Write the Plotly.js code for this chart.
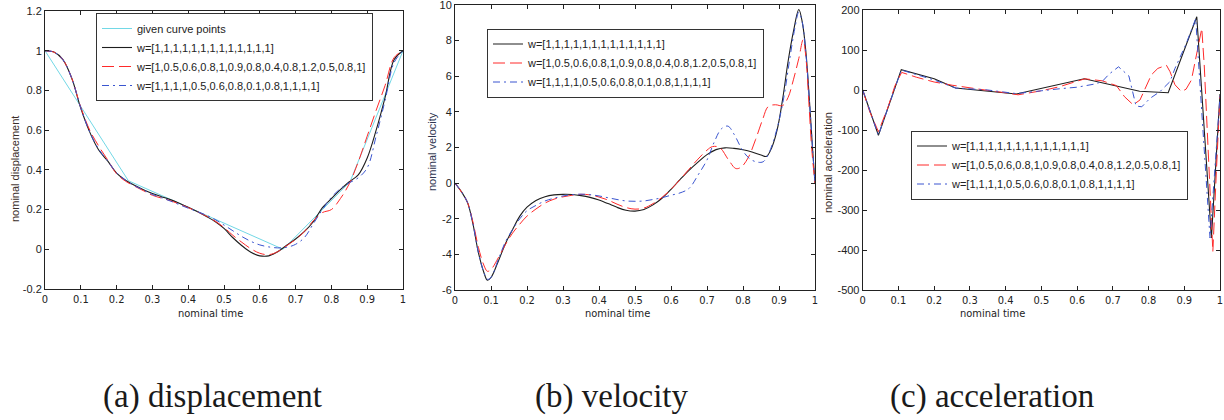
<!DOCTYPE html>
<html><head><meta charset="utf-8">
<script src="https://cdn.plot.ly/plotly-3.0.1.min.js"></script>
<style>html,body{margin:0;padding:0;background:#fff}#chart{width:1224px;height:420px}</style>
</head><body><div id="chart"></div>
<script>
// ---------- tick labels ----------
const xTickVals = [0,0.1,0.2,0.3,0.4,0.5,0.6,0.7,0.8,0.9,1];
const xTickText = ["0","0.1","0.2","0.3","0.4","0.5","0.6","0.7","0.8","0.9","1"];
const dispTickVals = [-0.2,0,0.2,0.4,0.6,0.8,1,1.2];
const dispTickText = ["-0.2","0","0.2","0.4","0.6","0.8","1","1.2"];
const velTickVals = [-6,-4,-2,0,2,4,6,8,10];
const velTickText = ["-6","-4","-2","0","2","4","6","8","10"];
const accTickVals = [-500,-400,-300,-200,-100,0,100,200];
const accTickText = ["-500","-400","-300","-200","-100","0","100","200"];

// ---------- legend names ----------
const nameGiven = "given curve points";
const nameW1 = "w=[1,1,1,1,1,1,1,1,1,1,1,1,1]";
const nameW2 = "w=[1,0.5,0.6,0.8,1,0.9,0.8,0.4,0.8,1.2,0.5,0.8,1]";
const nameW3 = "w=[1,1,1,1,0.5,0.6,0.8,0.1,0.8,1,1,1,1]";

// ---------- (a) displacement ----------
const givenT = [0, 0.233, 0.665, 0.852, 1];
const givenV = [1, 0.345, 0.0, 0.34, 1];
const dispT = [0,0.025,0.05,0.075,0.1,0.125,0.15,0.175,0.2,0.225,0.25,0.275,0.3,0.325,0.35,0.375,0.4,0.425,0.45,0.475,0.5,0.525,0.55,0.575,0.6,0.625,0.65,0.675,0.7,0.725,0.75,0.775,0.8,0.825,0.85,0.875,0.9,0.925,0.95,0.975,1.0];
const dispBlack = [1.0,0.993,0.955,0.86,0.71,0.59,0.50,0.445,0.384,0.348,0.322,0.300,0.281,0.265,0.250,0.232,0.212,0.190,0.166,0.140,0.105,0.058,0.018,-0.015,-0.033,-0.033,-0.012,0.02,0.052,0.09,0.14,0.21,0.255,0.30,0.34,0.375,0.46,0.60,0.765,0.955,1.0];
const dispRed = [1.0,0.993,0.955,0.86,0.715,0.60,0.52,0.45,0.38,0.343,0.318,0.295,0.272,0.258,0.245,0.228,0.21,0.19,0.168,0.142,0.11,0.07,0.035,0.003,-0.02,-0.027,-0.012,0.018,0.05,0.09,0.145,0.185,0.20,0.255,0.33,0.44,0.57,0.70,0.825,0.965,1.0];
const dispBlue = [1.0,0.993,0.955,0.86,0.712,0.59,0.505,0.445,0.385,0.348,0.32,0.298,0.276,0.26,0.243,0.225,0.207,0.19,0.172,0.15,0.122,0.093,0.064,0.04,0.022,0.012,0.007,0.01,0.025,0.06,0.13,0.2,0.262,0.305,0.335,0.36,0.41,0.57,0.75,0.94,1.0];

// ---------- (b) velocity ----------
const velBlackT = [0,0.02,0.035,0.05,0.065,0.08,0.09,0.1,0.12,0.14,0.16,0.18,0.2,0.225,0.25,0.275,0.3,0.325,0.35,0.375,0.4,0.425,0.45,0.475,0.5,0.525,0.55,0.575,0.6,0.625,0.65,0.675,0.7,0.725,0.75,0.775,0.8,0.825,0.85,0.865,0.88,0.895,0.91,0.925,0.94,0.955,0.965,0.975,0.985,0.993,1.0];
const velBlack = [0,-0.55,-1.1,-2.3,-3.9,-5.0,-5.45,-5.3,-4.4,-3.4,-2.6,-1.85,-1.35,-0.97,-0.76,-0.66,-0.63,-0.64,-0.7,-0.8,-0.95,-1.15,-1.36,-1.52,-1.57,-1.48,-1.22,-0.85,-0.35,0.2,0.72,1.18,1.6,1.88,1.98,1.95,1.87,1.75,1.58,1.5,2.0,3.0,4.7,6.8,8.5,9.75,9.0,7.3,4.5,2.0,0];
const velRedT = [0,0.02,0.035,0.05,0.065,0.08,0.09,0.1,0.12,0.14,0.16,0.18,0.2,0.225,0.25,0.275,0.3,0.325,0.35,0.375,0.4,0.425,0.45,0.475,0.5,0.525,0.55,0.575,0.6,0.625,0.65,0.675,0.7,0.715,0.735,0.76,0.78,0.795,0.815,0.835,0.855,0.87,0.89,0.91,0.925,0.94,0.955,0.967,0.975,0.983,0.991,1.0];
const velRed = [0,-0.55,-1.1,-2.2,-3.6,-4.6,-4.95,-4.85,-4.2,-3.45,-2.8,-2.3,-1.85,-1.45,-1.12,-0.9,-0.77,-0.68,-0.63,-0.66,-0.78,-0.95,-1.18,-1.37,-1.46,-1.4,-1.15,-0.8,-0.35,0.2,0.78,1.35,1.85,2.05,2.0,1.3,0.82,0.9,1.45,2.45,3.6,4.3,4.4,4.35,4.8,5.8,7.0,8.05,7.0,4.5,1.9,0];
const velBlueT = [0,0.02,0.035,0.05,0.065,0.08,0.09,0.1,0.12,0.14,0.16,0.18,0.2,0.225,0.25,0.275,0.3,0.325,0.35,0.375,0.4,0.425,0.45,0.475,0.5,0.525,0.55,0.575,0.6,0.625,0.65,0.675,0.7,0.72,0.74,0.758,0.775,0.8,0.82,0.84,0.856,0.87,0.885,0.9,0.915,0.93,0.945,0.955,0.965,0.975,0.985,0.993,1.0];
const velBlue = [0,-0.55,-1.1,-2.3,-3.9,-5.0,-5.4,-5.3,-4.3,-3.3,-2.6,-2.0,-1.55,-1.25,-1.0,-0.85,-0.72,-0.65,-0.62,-0.65,-0.72,-0.82,-0.92,-1.0,-1.02,-1.0,-0.92,-0.82,-0.68,-0.55,-0.3,0.45,1.3,2.3,3.05,3.2,2.75,1.8,1.35,1.18,1.2,1.6,2.4,3.5,5.0,7.0,8.8,9.6,9.0,7.2,4.5,2.0,0];

// ---------- (c) acceleration ----------
const accBlackT = [0,0.044,0.108,0.2,0.26,0.43,0.62,0.775,0.855,0.935,0.976,1.0];
const accBlack = [0,-113,51,28,5,-10,28,-3,-7,183,-370,-10];
const accRedT = [0,0.02,0.044,0.07,0.09,0.109,0.15,0.2,0.25,0.3,0.35,0.4,0.435,0.5,0.55,0.6,0.622,0.67,0.71,0.733,0.757,0.776,0.79,0.808,0.826,0.85,0.86,0.874,0.892,0.905,0.92,0.935,0.949,0.956,0.965,0.972,0.98,0.99,1.0];
const accRed = [0,-55,-104,-45,10,44,32,20,12,5,-1,-7,-12,-2,8,22,28,23,11,-17,-37,-25,4,38,54,62,46,13,-4,2,25,90,154,60,-110,-260,-404,-200,-15];
const accBlueT = [0,0.044,0.108,0.2,0.26,0.35,0.43,0.5,0.55,0.6,0.65,0.67,0.69,0.716,0.745,0.765,0.781,0.804,0.832,0.86,0.874,0.905,0.932,0.972,1.0];
const accBlue = [0,-113,50,25,5,0,-9,-1,3,7,15,21,40,58,35,-40,-42,-21,-4,21,54,115,178,-370,-15];

// ---------- styling ----------
const W = 1224, H = 420;
const px = x => x / W;
const py = y => 1 - y / H;
const SANS = '"Liberation Sans", Arial, sans-serif';
const NARROW = '"Liberation Sans Narrow", "DejaVu Sans Condensed", "Liberation Sans", sans-serif';
const cBlack = '#1e1e1e', cRed = '#ff2a2a', cBlue = '#3a55d0', cCyan = '#72d8e6';
const lBlack = {color: cBlack, width: 1.1};
const lRed = {color: cRed, width: 1, dash: '12px,5px'};
const lBlue = {color: cBlue, width: 1, dash: '7px,4px,2px,4px'};
const lCyan = {color: cCyan, width: 1};

function tr(x, y, name, line, xa, ya, leg, shape) {
  return {x: x, y: y, name: name, mode: 'lines', type: 'scatter',
    line: Object.assign({shape: shape}, line), xaxis: xa, yaxis: ya, legend: leg, hoverinfo: 'skip'};
}

const data = [
  tr(givenT, givenV, nameGiven, lCyan, 'x', 'y', 'legend', 'linear'),
  tr(dispT, dispBlack, nameW1, lBlack, 'x', 'y', 'legend', 'spline'),
  tr(dispT, dispRed, nameW2, lRed, 'x', 'y', 'legend', 'spline'),
  tr(dispT, dispBlue, nameW3, lBlue, 'x', 'y', 'legend', 'spline'),
  tr(velBlackT, velBlack, nameW1, lBlack, 'x2', 'y2', 'legend2', 'spline'),
  tr(velRedT, velRed, nameW2, lRed, 'x2', 'y2', 'legend2', 'spline'),
  tr(velBlueT, velBlue, nameW3, lBlue, 'x2', 'y2', 'legend2', 'spline'),
  tr(accBlackT, accBlack, nameW1, lBlack, 'x3', 'y3', 'legend3', 'linear'),
  tr(accRedT, accRed, nameW2, lRed, 'x3', 'y3', 'legend3', 'linear'),
  tr(accBlueT, accBlue, nameW3, lBlue, 'x3', 'y3', 'legend3', 'linear')
];

function xax(dom, anchor) {
  return {domain: dom, anchor: anchor, range: [0, 1], tickmode: 'array', tickvals: xTickVals, ticktext: xTickText,
    ticks: 'inside', ticklen: 4, tickcolor: '#222', showline: true, linecolor: '#222', linewidth: 1, mirror: 'ticks',
    showgrid: false, zeroline: false, ticklabeloverflow: 'allow',
    tickfont: {family: NARROW, size: 11, color: '#222'}, fixedrange: true};
}
function yax(dom, anchor, rng, vals, text) {
  return {domain: dom, anchor: anchor, range: rng, tickmode: 'array', tickvals: vals, ticktext: text,
    ticks: 'inside', ticklen: 4, tickcolor: '#222', showline: true, linecolor: '#222', linewidth: 1, mirror: 'ticks',
    showgrid: false, zeroline: false, ticklabeloverflow: 'allow',
    tickfont: {family: SANS, size: 11, color: '#222'}, fixedrange: true};
}
function leg(x, yc) {
  return {x: px(x), y: py(yc), xanchor: 'left', yanchor: 'middle', xref: 'paper', yref: 'paper',
    bgcolor: '#fff', bordercolor: '#333', borderwidth: 1, tracegroupgap: 0, itemwidth: 30,
    font: {family: SANS, size: 11, color: '#222'}};
}
function ann(text, x, y, size, family, angle, color) {
  return {text: text, x: px(x), y: py(y), xref: 'paper', yref: 'paper', showarrow: false,
    xanchor: 'center', yanchor: 'middle', textangle: angle || 0,
    font: {family: family, size: size, color: color || '#222'}};
}

const layout = {
  width: W, height: H, margin: {l: 0, r: 0, t: 0, b: 0},
  paper_bgcolor: '#fff', plot_bgcolor: '#fff', showlegend: true,
  xaxis: xax([px(45), px(403)], 'y'),
  yaxis: yax([py(289), py(11)], 'x', [-0.2, 1.2], dispTickVals, dispTickText),
  xaxis2: xax([px(455), px(815)], 'y2'),
  yaxis2: yax([py(290), py(5)], 'x2', [-6, 10], velTickVals, velTickText),
  xaxis3: xax([px(862.7), px(1220)], 'y3'),
  yaxis3: yax([py(290), py(10)], 'x3', [-500, 200], accTickVals, accTickText),
  legend: leg(96, 57),
  legend2: leg(487, 63),
  legend3: leg(911, 165),
  annotations: [
    ann('nominal time', 210, 313, 11, NARROW, 0),
    ann('nominal time', 617, 313, 11, NARROW, 0),
    ann('nominal time', 992, 313, 11, NARROW, 0),
    ann('nominal displacement', 15, 169, 11, SANS, -90, '#3a2e2a'),
    ann('nominal velocity', 432, 152, 11, SANS, -90, '#2e3550'),
    ann('nominal acceleration', 828, 163, 11, SANS, -90, '#3a2e2a'),
    ann('(a) displacement', 212, 396, 33, '"Liberation Serif", serif', 0, '#1a1a1a'),
    ann('(b) velocity', 612, 396, 33, '"Liberation Serif", serif', 0, '#1a1a1a'),
    ann('(c) acceleration', 992, 396, 33, '"Liberation Serif", serif', 0, '#1a1a1a')
  ]
};

Plotly.newPlot('chart', data, layout, {staticPlot: true, displayModeBar: false});
</script></body></html>
